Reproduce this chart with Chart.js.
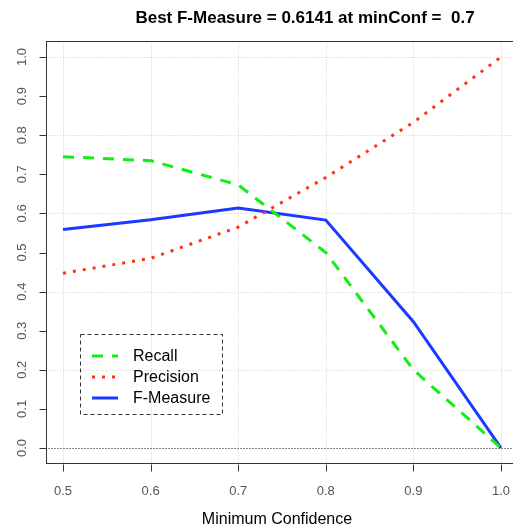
<!DOCTYPE html>
<html>
<head>
<meta charset="utf-8">
<script src="https://cdn.jsdelivr.net/npm/chart.js@4.4.1/dist/chart.umd.min.js"></script>
<style>
html, body { margin: 0; padding: 0; overflow: hidden; background: #fff; }
</style>
</head>
<body>
<canvas id="chart" width="530" height="526"></canvas>
<script>
// data
const minConf = [0.5, 0.6, 0.7, 0.8, 0.9, 1.0];
const recall = [0.745, 0.735, 0.673, 0.5, 0.2, 0.0];
const precision = [0.447, 0.485, 0.565, 0.692, 0.833, 1.0];
const fMeasure = [0.559, 0.584, 0.6141, 0.583, 0.323, 0.0];

const xTicks = [0.5, 0.6, 0.7, 0.8, 0.9, 1.0];
const yTicks = [0.0, 0.1, 0.2, 0.3, 0.4, 0.5, 0.6, 0.7, 0.8, 0.9, 1.0];
const yGrid = [0.0, 0.2, 0.4, 0.6, 0.8, 1.0];

const titleText = 'Best F-Measure = 0.6141 at minConf =  0.7';
const xTitle = 'Minimum Confidence';

const FONT = '"Liberation Sans", Arial, Helvetica, sans-serif';

const pts = ys => minConf.map((x, i) => ({ x: x, y: ys[i] }));

// R style frame: grid, box, ticks, labels, title and legend
const rFrame = {
    id: 'rFrame',
    beforeDatasetsDraw(chart) {
        const { ctx, chartArea: a, scales: { x, y } } = chart;
        ctx.save();
        ctx.lineWidth = 1;
        ctx.strokeStyle = '#cccccc';
        ctx.setLineDash([1, 2]);
        xTicks.forEach(v => {
            const px = Math.round(x.getPixelForValue(v)) + 0.5;
            ctx.beginPath(); ctx.moveTo(px, a.top); ctx.lineTo(px, a.bottom); ctx.stroke();
        });
        yGrid.forEach(v => {
            const py = Math.round(y.getPixelForValue(v)) + 0.5;
            ctx.beginPath(); ctx.moveTo(a.left, py); ctx.lineTo(a.right, py); ctx.stroke();
        });
        // abline(h = 0)
        ctx.strokeStyle = '#222';
        ctx.setLineDash([1, 2]);
        const p0 = Math.round(y.getPixelForValue(0)) + 0.5;
        ctx.beginPath(); ctx.moveTo(a.left, p0); ctx.lineTo(a.right, p0); ctx.stroke();
        ctx.restore();
    },
    afterDatasetsDraw(chart) {
        const { ctx, chartArea: a, scales: { x, y } } = chart;
        ctx.save();
        ctx.setLineDash([]);
        ctx.strokeStyle = '#333';
        ctx.lineWidth = 1;
        ctx.strokeRect(Math.round(a.left) + 0.5, Math.round(a.top) + 0.5,
            Math.round(a.right - a.left), Math.round(a.bottom - a.top));

        // ticks
        const tl = 7;
        ctx.beginPath();
        xTicks.forEach(v => {
            const px = Math.round(x.getPixelForValue(v)) + 0.5;
            ctx.moveTo(px, Math.round(a.bottom) + 0.5);
            ctx.lineTo(px, Math.round(a.bottom) + 0.5 + tl);
        });
        yTicks.forEach(v => {
            const py = Math.round(y.getPixelForValue(v)) + 0.5;
            ctx.moveTo(Math.round(a.left) + 0.5, py);
            ctx.lineTo(Math.round(a.left) + 0.5 - tl, py);
        });
        ctx.stroke();

        // tick labels
        ctx.fillStyle = '#555';
        ctx.font = '13px ' + FONT;
        ctx.textAlign = 'center';
        ctx.textBaseline = 'middle';
        xTicks.forEach(v => {
            ctx.fillText(v.toFixed(1), x.getPixelForValue(v), 491);
        });
        yTicks.forEach(v => {
            ctx.save();
            ctx.translate(22, y.getPixelForValue(v));
            ctx.rotate(-Math.PI / 2);
            ctx.fillText(v.toFixed(1), 0, 0);
            ctx.restore();
        });

        // axis title and main title
        ctx.fillStyle = '#000';
        ctx.textBaseline = 'alphabetic';
        ctx.font = '16px ' + FONT;
        ctx.fillText(xTitle, 277, 524);
        ctx.font = 'bold 17px ' + FONT;
        ctx.fillText(titleText, 305, 23);

        // legend
        const lx = 80.5, ly = 334.5, lw = 142, lh = 80;
        ctx.strokeStyle = '#333';
        ctx.lineWidth = 1;
        ctx.setLineDash([4, 3]);
        ctx.strokeRect(lx, ly, lw, lh);
        const rows = [356, 377, 398];
        ctx.font = '16px ' + FONT;
        ctx.textAlign = 'left';
        ctx.textBaseline = 'middle';
        chart.data.datasets.forEach((ds, i) => {
            ctx.strokeStyle = ds.borderColor;
            ctx.lineWidth = ds.borderWidth;
            ctx.setLineDash(ds.borderDash || []);
            ctx.beginPath();
            ctx.moveTo(92, rows[i]);
            ctx.lineTo(118, rows[i]);
            ctx.stroke();
            ctx.fillStyle = '#000';
            ctx.fillText(ds.label, 133, rows[i] + 1);
        });
        ctx.restore();
    }
};

new Chart(document.getElementById('chart').getContext('2d'), {
    type: 'line',
    data: {
        datasets: [
            { label: 'Recall', data: pts(recall), borderColor: '#11ee11', borderWidth: 3, borderDash: [11, 9] },
            { label: 'Precision', data: pts(precision), borderColor: '#ff3311', borderWidth: 3, borderDash: [3, 7] },
            { label: 'F-Measure', data: pts(fMeasure), borderColor: '#1a3aff', borderWidth: 3 }
        ]
    },
    options: {
        responsive: false,
        animation: false,
        layout: { padding: { top: 41.4, right: 11.5, left: 0, bottom: 0 } },
        elements: { point: { radius: 0 }, line: { tension: 0, fill: false } },
        plugins: { legend: { display: false }, tooltip: { enabled: false } },
        scales: {
            x: {
                type: 'linear',
                min: 0.48, max: 1.02,
                grid: { display: false },
                border: { display: false },
                ticks: { display: false },
                afterFit: s => { s.height = 62.4; }
            },
            y: {
                min: -0.04, max: 1.04,
                grid: { display: false },
                border: { display: false },
                ticks: { display: false },
                afterFit: s => { s.width = 45.5; }
            }
        }
    },
    plugins: [rFrame]
});
</script>
</body>
</html>
